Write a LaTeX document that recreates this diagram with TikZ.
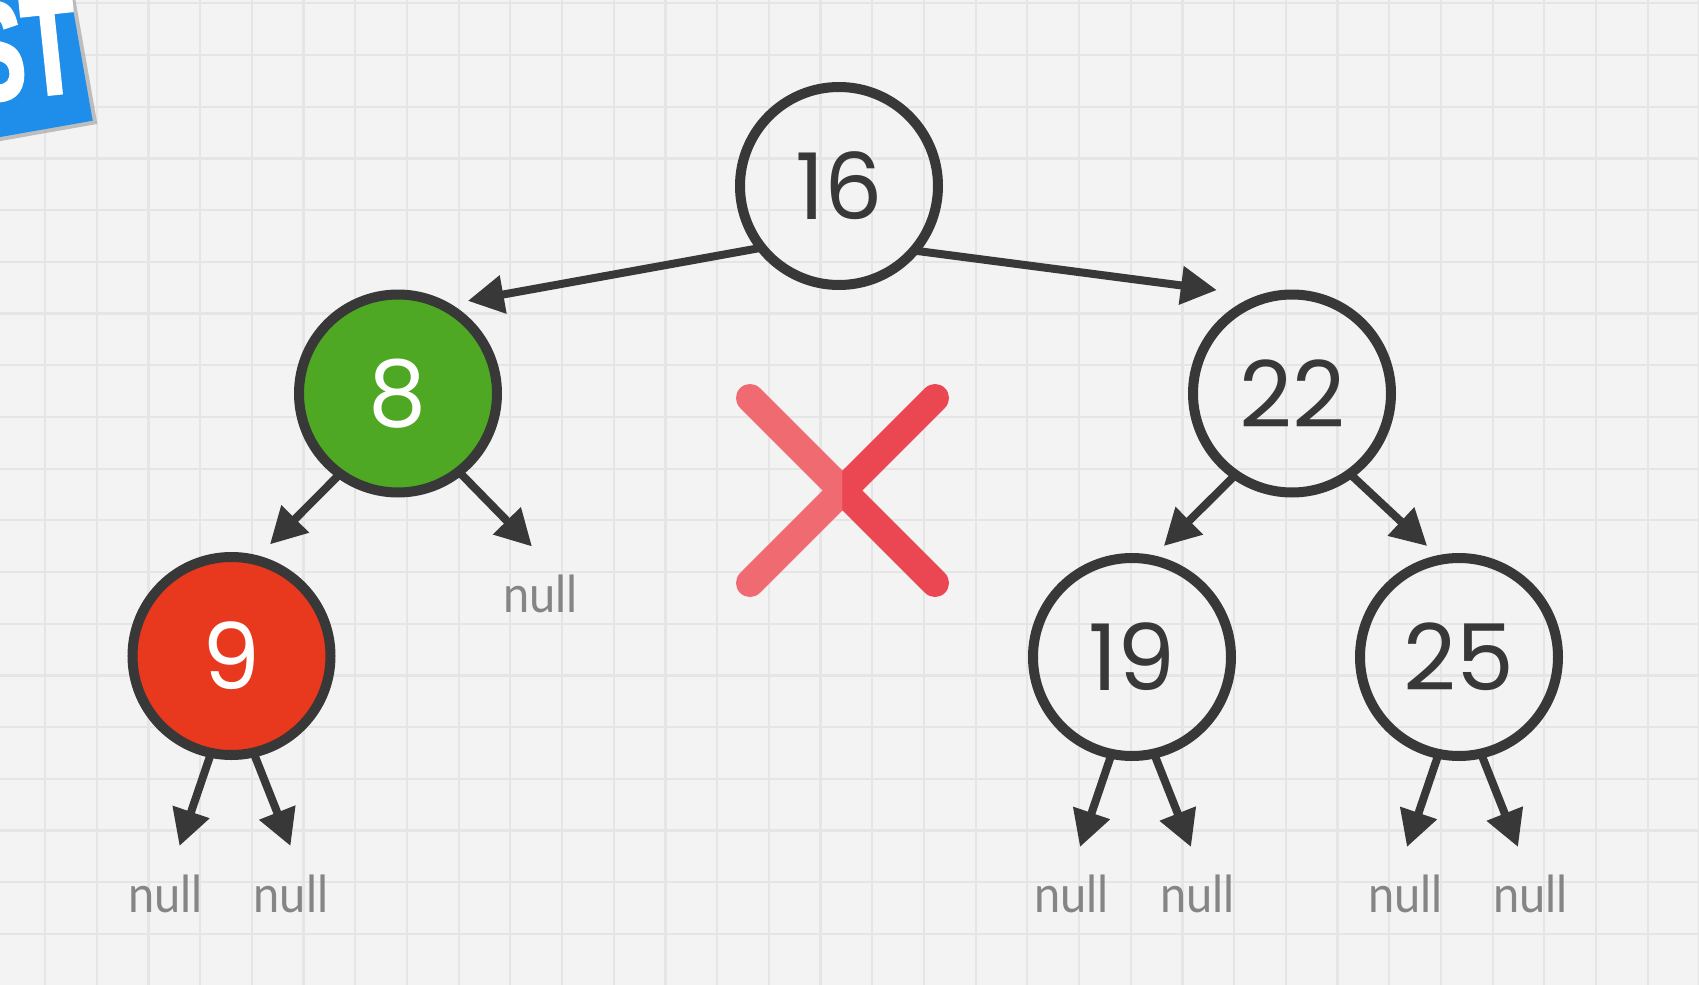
\documentclass[tikz,border=0pt]{standalone}
\usepackage{fontspec}
\usetikzlibrary{arrows.meta,calc}
\newfontfamily\digitfont{Poppins}
\newfontfamily\nulltxtfont[FakeStretch=0.92]{Lato}
\newfontfamily\badgefont[FakeStretch=0.62,FakeBold=2]{Liberation Sans}
\definecolor{ink}{HTML}{383838}
\definecolor{nodegreen}{HTML}{4FA823}
\definecolor{nodered}{HTML}{E8391E}
\definecolor{nullgrey}{HTML}{858585}
\definecolor{xlight}{HTML}{F06B71}
\definecolor{xdark}{HTML}{EB4752}
\definecolor{bgcol}{HTML}{F3F3F3}
\definecolor{gridcol}{HTML}{E5E5E5}
\definecolor{badgeblue}{HTML}{1E8EEA}
\definecolor{badgeshade}{HTML}{9A9A9A}
\tikzset{
  treenode/.style={circle, draw=ink, line width=5pt, minimum size=99pt, inner sep=0pt,
    font=\digitfont\fontsize{46}{46}\selectfont, text=ink},
  nulltext/.style={font=\nulltxtfont\fontsize{25.5}{25.5}\selectfont, text=nullgrey, anchor=base, inner sep=0pt},
  arr/.style={draw=ink, line width=4pt, -{Triangle[length=18pt,width=18.5pt]}},
  xstroke/.style={line width=14pt, line cap=round},
  gridline/.style={draw=gridcol, line width=1.1pt},
  badgetext/.style={font=\badgefont\bfseries\fontsize{70}{70}\selectfont, inner sep=0pt}
}
\begin{document}
\begin{tikzpicture}[x=0.5pt,y=-0.5pt]
\useasboundingbox (0,0) rectangle (1699,985);
\fill[bgcol] (0,0) rectangle (1699,985);
\foreach \i in {0,...,32} \draw[gridline] ({45+51.7*\i},0) -- ({45+51.7*\i},985);
\foreach \j in {0,...,18} \draw[gridline] (0,{3.3+51.7*\j}) -- (1699,{3.3+51.7*\j});

% badge
\begin{scope}[shift={(92.7,120.7)}, rotate=10]
  \fill[badgeshade, opacity=0.6] (-300,-300) rectangle (4,4);
  \fill[badgeblue] (-300,-300) rectangle (0,0);
\end{scope}
\node[badgetext, text=white, anchor=base east, rotate=6] (badge) at (82,91) {ST};

% cross
\coordinate (xa) at (750,398);
\coordinate (xb) at (935,583);
\coordinate (xc) at (935,398);
\coordinate (xd) at (750,583);
\begin{scope}
  \clip (842,350) rectangle (1000,640);
  \draw[xstroke, xdark] (xa) -- (xb);
  \draw[xstroke, xdark] (xc) -- (xd);
\end{scope}
\begin{scope}
  \clip (842,350) rectangle (700,640);
  \draw[xstroke, xlight] (xa) -- (xb);
  \draw[xstroke, xlight] (xc) -- (xd);
\end{scope}

% tree nodes
\node[treenode] (n16) at (839,186) {16};
\node[treenode, fill=nodegreen, text=white] (n8) at (398,393.5) {8};
\node[treenode] (n22) at (1292,393.5) {22};
\node[treenode, fill=nodered, text=white] (n9) at (231.5,656) {9};
\node[treenode] (n19) at (1132,657) {19};
\node[treenode] (n25) at (1459,657) {25};

% null labels
\node[nulltext] (nl8) at (540.5,612) {null};
\node[nulltext] (nl9a) at (165.5,912) {null};
\node[nulltext] (nl9b) at (291,912) {null};
\node[nulltext] (nl19a) at (1071.7,912) {null};
\node[nulltext] (nl19b) at (1197.4,912) {null};
\node[nulltext] (nl25a) at (1405.4,912) {null};
\node[nulltext] (nl25b) at (1530.4,912) {null};

% arrows between nodes
\draw[arr] ($(n16.center)!0.97!(n16.218)$) -- ($(n8.center)!1.115!(n8.53)$);
\draw[arr] ($(n16.center)!0.97!(n16.320)$) -- ($(n22.center)!1.229!(n22.126)$);
\draw[arr] ($(n8.center)!0.97!(n8.234)$) -- ($(n9.center)!1.135!(n9.71.6)$);
\draw[arr] ($(n22.center)!0.97!(n22.235.7)$) -- ($(n19.center)!1.11!(n19.74.2)$);
\draw[arr] ($(n22.center)!0.97!(n22.306)$) -- ($(n25.center)!1.11!(n25.106.4)$);

% arrows to null
\coordinate (t8) at ($(n8)+(134,153)$);
\draw[arr] ($(n8.center)!0.97!(n8.308.6)$) -- (t8);
\coordinate (t9a) at ($(n9)+(-52,190)$);
\coordinate (t9b) at ($(n9)+(59,190)$);
\draw[arr] ($(n9.center)!0.97!(n9.258.4)$) -- (t9a);
\draw[arr] ($(n9.center)!0.97!(n9.283.8)$) -- (t9b);
\coordinate (t19a) at ($(n19)+(-52,190)$);
\coordinate (t19b) at ($(n19)+(59,190)$);
\draw[arr] ($(n19.center)!0.97!(n19.258.4)$) -- (t19a);
\draw[arr] ($(n19.center)!0.97!(n19.283.8)$) -- (t19b);
\coordinate (t25a) at ($(n25)+(-52,190)$);
\coordinate (t25b) at ($(n25)+(59,190)$);
\draw[arr] ($(n25.center)!0.97!(n25.258.4)$) -- (t25a);
\draw[arr] ($(n25.center)!0.97!(n25.283.8)$) -- (t25b);
\end{tikzpicture}
\end{document}
